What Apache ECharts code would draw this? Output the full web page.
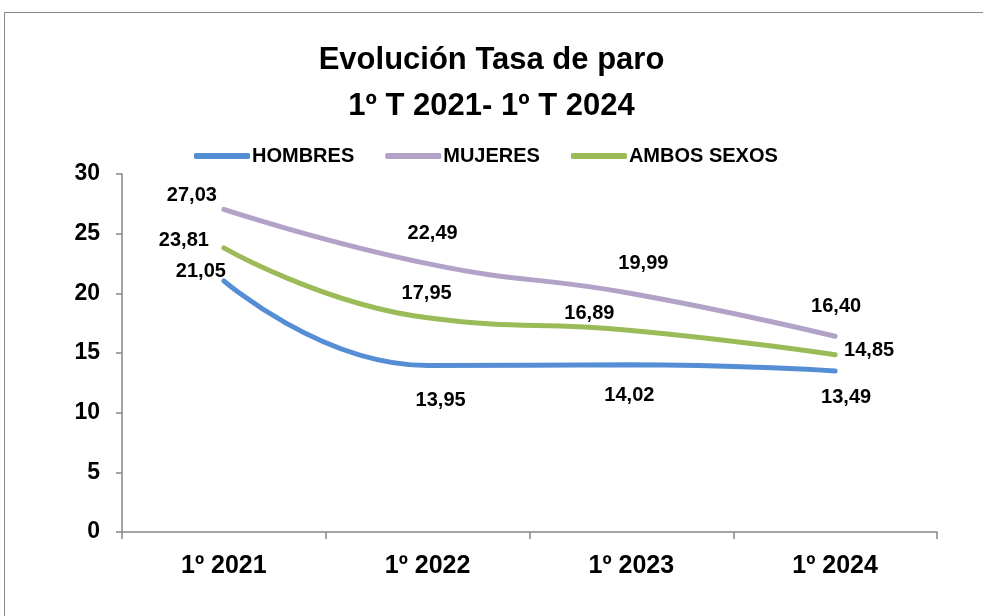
<!DOCTYPE html>
<html><head><meta charset="utf-8">
<script src="https://cdn.jsdelivr.net/npm/echarts@6/dist/echarts.min.js"></script>
<style>
html,body{margin:0;padding:0;background:#fff;overflow:hidden;}
#frame{position:absolute;left:4px;top:12px;width:1100px;height:800px;border:1.5px solid #8a8a8a;}
#chart{position:absolute;left:0;top:0;width:983px;height:616px;}
</style></head><body>
<div id="frame"></div>
<div id="chart"></div>
<script>
const categories = ['1º 2021', '1º 2022', '1º 2023', '1º 2024'];
const hombres = [21.05, 13.95, 14.02, 13.49];
const mujeres = [27.03, 22.49, 19.99, 16.40];
const ambos = [23.81, 17.95, 16.89, 14.85];
const seriesNames = ['HOMBRES', 'MUJERES', 'AMBOS SEXOS'];
const titleLines = ['Evolución Tasa de paro', '1º T 2021- 1º T 2024'];

// label offsets (layout only)
const offH = [[-23, -9], [13, 35], [-2, 31], [11, 26]];
const offM = [[-32, -14], [5, -30], [12, -30], [1, -30]];
const offA = [[-40, -7], [-1, -24], [-42, -17], [34, -4]];

const FONT = '"Liberation Sans", Arial, sans-serif';
const colors = ['#558ED5', '#B3A2C7', '#9BBB59'];

function mk(name, vals, offs, color) {
  return {
    name: name, type: 'line', smooth: 0.5, symbol: 'circle', symbolSize: 1, showSymbol: true,
    color: color, itemStyle: { color: color },
    lineStyle: { width: 5, color: color, cap: 'round' },
    data: vals.map((v, i) => ({
      value: v,
      label: { show: true, position: 'inside', offset: offs[i],
        formatter: p => p.value.toFixed(2).replace('.', ','),
        fontFamily: FONT, fontWeight: 'bold', fontSize: 20, color: '#000' }
    })),
    z: 2
  };
}

const chart = echarts.init(document.getElementById('chart'), null, { renderer: 'canvas' });
chart.setOption({
  animation: false,
  backgroundColor: 'transparent',
  title: {
    text: titleLines.join('\n'), left: 'center', top: 32,
    textStyle: { fontFamily: FONT, fontWeight: 'bold', fontSize: 31, lineHeight: 46, color: '#000' }
  },
  legend: {
    data: seriesNames, top: 141, left: 189,
    icon: 'roundRect', itemWidth: 56, itemHeight: 6, itemGap: 31,
    textStyle: { fontFamily: FONT, fontWeight: 'bold', fontSize: 20, color: '#000', padding: [0, 0, 0, -3] }
  },
  grid: { left: 122, right: 46, top: 174, bottom: 84, containLabel: false },
  xAxis: {
    type: 'category', data: categories, boundaryGap: true,
    axisLine: { lineStyle: { color: '#868686', width: 1.5 } },
    axisTick: { show: true, alignWithLabel: false, length: 7, lineStyle: { color: '#868686', width: 1.5 } },
    axisLabel: { margin: 22, fontFamily: FONT, fontWeight: 'bold', fontSize: 25, color: '#000' }
  },
  yAxis: {
    type: 'value', min: 0, max: 30, interval: 5,
    splitLine: { show: false },
    axisLine: { show: true, lineStyle: { color: '#868686', width: 1.5 } },
    axisTick: { show: true, length: 6, lineStyle: { color: '#868686', width: 1.5 } },
    axisLabel: { margin: 22, fontFamily: FONT, fontWeight: 'bold', fontSize: 23, color: '#000' }
  },
  series: [
    mk(seriesNames[0], hombres, offH, colors[0]),
    mk(seriesNames[1], mujeres, offM, colors[1]),
    mk(seriesNames[2], ambos, offA, colors[2])
  ]
});
</script>
</body></html>
